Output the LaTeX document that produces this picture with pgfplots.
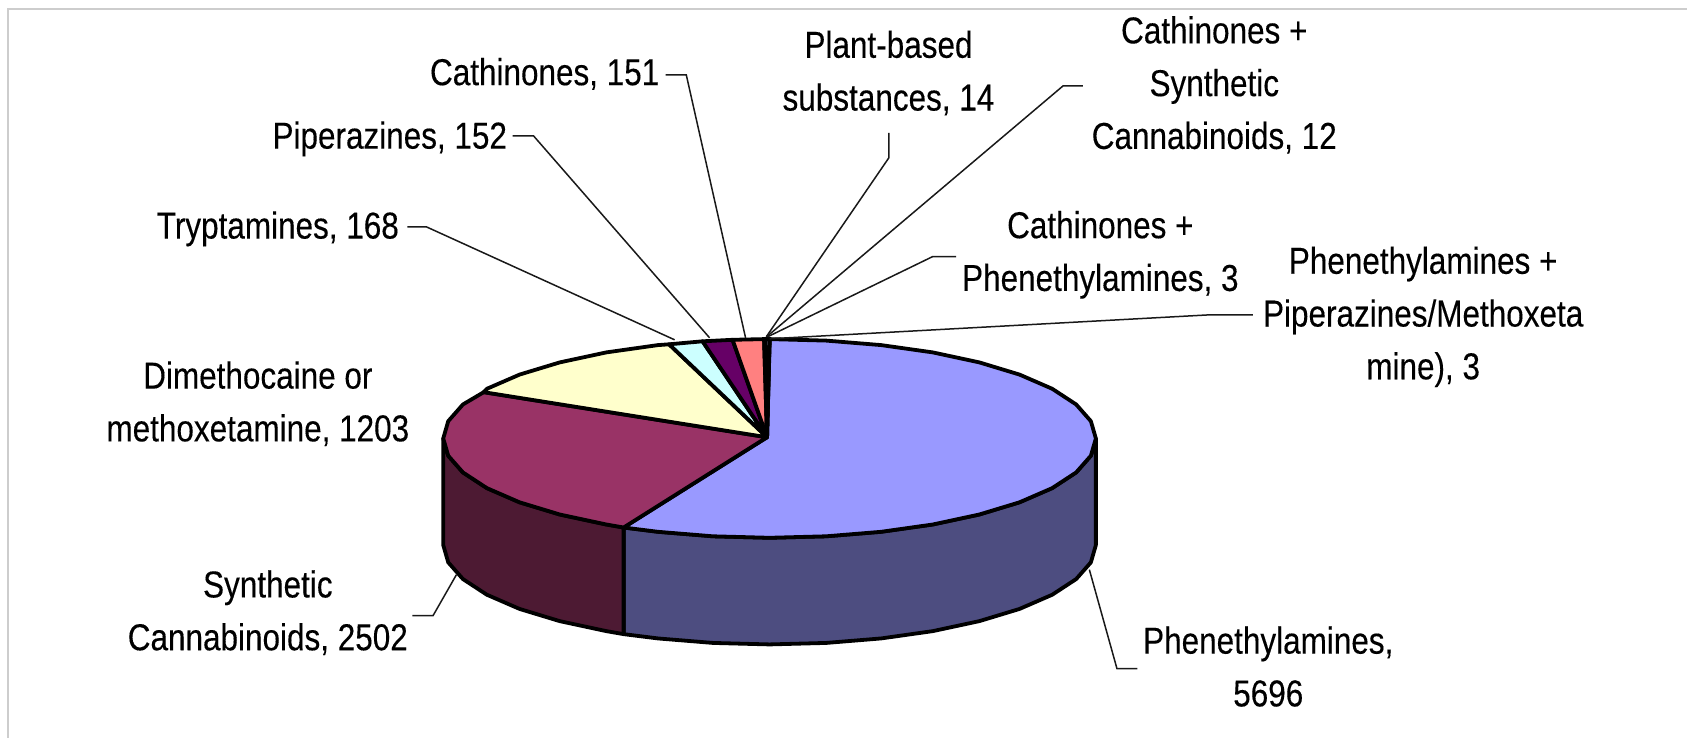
\documentclass[border=0pt]{standalone}
\usepackage{pgfplots}
\pgfplotsset{compat=1.18}
\usepackage{fontspec}
\setmainfont[FakeStretch=0.84,FakeBold=0.25]{Liberation Sans}
\definecolor{cA}{HTML}{9999FF}
\definecolor{cAd}{HTML}{4D4D80}
\definecolor{cB}{HTML}{993366}
\definecolor{cBd}{HTML}{4D1A33}
\definecolor{cC}{HTML}{FFFFCC}
\definecolor{cD}{HTML}{CCFFFF}
\definecolor{cE}{HTML}{660066}
\definecolor{cF}{HTML}{FF8080}
\definecolor{cG}{HTML}{0066CC}
\definecolor{cH}{HTML}{CCCCFF}
\definecolor{framec}{HTML}{CDCDCD}
\tikzset{
  slice/.style={draw=black, line width=1.9pt, line join=round},
  leader/.style={draw=black!90, line width=0.75pt, line join=miter},
  lab/.style={font=\fontsize{18.75}{26.4}\selectfont, align=center, inner sep=0pt, anchor=center, text=black},
}
\begin{document}
\begin{tikzpicture}
\begin{axis}[
  scale only axis, width=844pt, height=369pt,
  xmin=0, xmax=1688, ymin=0, ymax=738, y dir=reverse,
  ticks=none, axis line style={draw=none},
  clip=false,
]
% frame
\addplot[draw=framec, line width=1pt] coordinates {(8.5,738)(8.5,9)(1688,9)};
% sides
\addplot[slice, fill=cAd] coordinates {(1096.5,438.7)(1091.5,456.0)(1076.8,472.7)(1052.8,488.4)(1020.1,502.6)(979.9,514.8)(933.3,524.8)(881.7,532.1)(826.7,536.6)(770,538.1)(713.3,536.6)(658.3,532.1)(624,527.8)(624,634.5)(658.3,638.8)(713.3,643.3)(770,644.8)(826.7,643.3)(881.7,638.8)(933.3,631.5)(979.9,621.5)(1020.1,609.3)(1052.8,595.1)(1076.8,579.4)(1091.5,562.7)(1096.5,545.4)} -- cycle;
\addplot[slice, fill=cBd] coordinates {(624,527.8)(606.7,524.8)(560.1,514.8)(519.9,502.6)(487.2,488.4)(463.2,472.7)(448.5,456.0)(443.5,438.7)(443.5,545.4)(448.5,562.7)(463.2,579.4)(487.2,595.1)(519.9,609.3)(560.1,621.5)(606.7,631.5)(624,634.5)} -- cycle;
% top faces
\addplot[slice, fill=cA] coordinates {(767.5,437.5)(770,339.3)(826.7,340.8)(881.7,345.3)(933.3,352.6)(979.9,362.6)(1020.1,374.8)(1052.8,389.0)(1076.8,404.7)(1091.5,421.4)(1096.5,438.7)(1091.5,456.0)(1076.8,472.7)(1052.8,488.4)(1020.1,502.6)(979.9,514.8)(933.3,524.8)(881.7,532.1)(826.7,536.6)(770,538.1)(713.3,536.6)(658.3,532.1)(624,527.8)} -- cycle;
\addplot[slice, fill=cB] coordinates {(767.5,437.5)(624,527.8)(606.7,524.8)(560.1,514.8)(519.9,502.6)(487.2,488.4)(463.2,472.7)(448.5,456.0)(443.5,438.7)(448.5,421.4)(463.2,404.7)(484,392.4)} -- cycle;
\addplot[slice, fill=cC] coordinates {(767.5,437.5)(484,392.4)(487.2,389.0)(519.9,374.8)(560.1,362.6)(606.7,352.6)(658.3,345.3)(669.5,344.5)} -- cycle;
\addplot[slice, fill=cD] coordinates {(767.5,437.5)(669.5,344.5)(703,341.5)} -- cycle;
\addplot[slice, fill=cE] coordinates {(767.5,437.5)(703,341.5)(733,340)} -- cycle;
\addplot[slice, fill=cF] coordinates {(767.5,437.5)(733,340)(764.5,339.3)} -- cycle;
\addplot[slice, fill=cG] coordinates {(767.5,437.5)(764.5,339.3)(765.5,339.3)} -- cycle;
\addplot[slice, fill=cH] coordinates {(767.5,437.5)(765.5,339.3)(770,339.3)} -- cycle;
\addplot[slice, fill=cA] coordinates {(767.5,437.5)(770,339.3)(770.2,339.3)} -- cycle;
% leaders
\addplot[leader] coordinates {(1090,570)(1117.6,669)(1138,669)};
\addplot[leader] coordinates {(456.7,575)(433.3,616)(412.7,616)};
\addplot[leader] coordinates {(407.6,227)(426.7,227)(675,340)};
\addplot[leader] coordinates {(512.8,136)(533.9,136)(710,338)};
\addplot[leader] coordinates {(666,75)(686.7,75)(746,338)};
\addplot[leader] coordinates {(889.3,133)(889.3,158)(766.7,337)};
\addplot[leader] coordinates {(1083.4,86)(1063.6,86)(767,337)};
\addplot[leader] coordinates {(956.7,256.7)(933.3,256.7)(768,337)};
\addplot[leader] coordinates {(1253.6,315)(1210.6,315)(770,339)};
% labels
\node[lab] at (axis cs:545,74) {Cathinones, 151};
\node[lab] at (axis cs:390,139) {Piperazines, 152};
\node[lab] at (axis cs:278,229) {Tryptamines, 168};
\node[lab] at (axis cs:889,73) {Plant-based\\substances, 14};
\node[lab] at (axis cs:1215,85) {Cathinones +\\Synthetic\\Cannabinoids, 12};
\node[lab] at (axis cs:1101,255) {Cathinones +\\Phenethylamines, 3};
\node[lab] at (axis cs:1424,317) {Phenethylamines +\\Piperazines/Methoxeta\\mine), 3};
\node[lab] at (axis cs:258,404) {Dimethocaine or\\methoxetamine, 1203};
\node[lab] at (axis cs:268,613) {Synthetic\\Cannabinoids, 2502};
\node[lab] at (axis cs:1269,667) {Phenethylamines,\\5696};
\end{axis}
\end{tikzpicture}
\end{document}
